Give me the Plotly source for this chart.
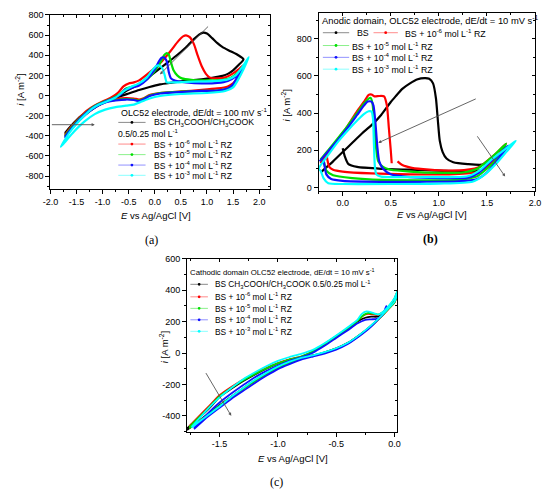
import plotly.graph_objects as go

# the page body keeps its default 8px margin, so the figure is drawn 8px in from the corner
OFF = 8
W, H = 550 - OFF, 492 - OFF

# ---------- (a) OLC52 electrode, 100 mV/s, full window ----------
A_E_BS = [-1.72, -1.6, -1.45, -1.3, -1.15, -1.0, -0.85, -0.7, -0.55, -0.4, -0.2, 0.0, 0.2, 0.4, 0.6, 0.75, 0.85, 0.93,
          1.0, 1.1, 1.2, 1.3, 1.45, 1.6, 1.7,
          1.6, 1.5, 1.4, 1.3, 1.1, 0.9, 0.6, 0.3, 0.1, -0.1, -0.3, -0.5, -0.7, -0.9, -1.1, -1.3, -1.5, -1.72]
A_I_BS = [-370, -300, -220, -160, -110, -70, -35, 0, 45, 85, 150, 230, 310, 390, 480, 560, 605, 625,
          615, 570, 520, 480, 440, 400, 360,
          300, 250, 215, 195, 175, 160, 145, 125, 110, 85, 55, 20, -15, -55, -105, -175, -260, -370]

A_E_R6 = [-1.72, -1.6, -1.45, -1.3, -1.15, -1.0, -0.85, -0.7, -0.6, -0.5, -0.4, -0.3, -0.1, 0.1, 0.3, 0.45, 0.55, 0.6,
          0.67, 0.75, 0.82, 0.9, 0.98, 1.05, 1.2, 1.35, 1.5, 1.62, 1.7,
          1.62, 1.5, 1.4, 1.2, 0.9, 0.5, 0.1, -0.1, -0.2, -0.3, -0.4, -0.55, -0.75, -0.95, -1.15, -1.35, -1.55, -1.72]
A_I_R6 = [-390, -310, -225, -150, -100, -60, -25, 30, 90, 120, 130, 150, 230, 320, 440, 540, 590, 598,
          580, 510, 400, 290, 215, 180, 170, 180, 220, 265, 300,
          200, 120, 90, 70, 55, 40, 25, 5, -25, -40, -30, -25, -35, -60, -110, -190, -290, -390]

A_E_R5 = [-1.72, -1.55, -1.4, -1.25, -1.1, -0.95, -0.8, -0.65, -0.55, -0.45, -0.35, -0.2, -0.05, 0.1, 0.18, 0.22,
          0.27, 0.31, 0.36, 0.43, 0.52, 0.7, 0.9, 1.1, 1.3, 1.45, 1.6, 1.7,
          1.62, 1.5, 1.4, 1.2, 0.9, 0.5, 0.1, -0.1, -0.2, -0.3, -0.4, -0.55, -0.75, -0.95, -1.15, -1.35, -1.55, -1.72]
A_I_R5 = [-400, -290, -210, -140, -90, -55, -25, 20, 70, 85, 100, 140, 210, 320, 400, 420,
          405, 330, 250, 200, 170, 155, 150, 150, 155, 175, 230, 285,
          190, 100, 70, 50, 45, 38, 25, 0, -30, -50, -40, -35, -45, -65, -115, -195, -300, -400]

A_E_R4 = [-1.72, -1.55, -1.4, -1.25, -1.1, -0.95, -0.8, -0.65, -0.57, -0.5, -0.42, -0.3, -0.15, 0.0, 0.08, 0.13,
          0.18, 0.23, 0.27, 0.31, 0.4, 0.6, 0.9, 1.2, 1.4, 1.55, 1.7,
          1.6, 1.5, 1.4, 1.2, 0.9, 0.5, 0.1, -0.1, -0.2, -0.3, -0.4, -0.55, -0.75, -0.95, -1.15, -1.35, -1.55, -1.72]
A_I_R4 = [-410, -300, -215, -145, -95, -60, -30, 10, 60, 65, 80, 100, 160, 260, 340, 375,
          378, 340, 230, 170, 145, 130, 120, 125, 145, 190, 280,
          200, 110, 70, 50, 45, 35, 20, -5, -35, -55, -45, -40, -50, -70, -120, -200, -305, -410]

A_E_R3 = [-1.8, -1.65, -1.5, -1.35, -1.2, -1.05, -0.9, -0.75, -0.6, -0.5, -0.42, -0.3, -0.15, -0.05, 0.02, 0.07,
          0.12, 0.17, 0.2, 0.23, 0.35, 0.6, 0.9, 1.2, 1.4, 1.55, 1.7, 1.8,
          1.7, 1.6, 1.5, 1.35, 1.0, 0.5, 0.1, -0.1, -0.25, -0.4, -0.55, -0.75, -0.95, -1.15, -1.35, -1.55, -1.7, -1.8]
A_I_R3 = [-510, -380, -280, -200, -130, -85, -55, -20, 40, 75, 95, 120, 180, 250, 290, 300,
          285, 240, 180, 130, 130, 135, 140, 145, 160, 200, 300, 380,
          260, 160, 80, 45, 25, 15, -5, -30, -60, -90, -100, -115, -140, -185, -260, -360, -450, -510]

# ---------- (b) anodic domain, 10 mV/s ----------
B_E_BS = [0.0, 0.02, 0.06, 0.15, 0.4, 0.7, 1.0, 1.3, 1.45, 1.55, 1.62, 1.7,
          1.62, 1.55, 1.45, 1.3, 1.15, 1.08, 1.04, 1.01, 0.99, 0.97, 0.94, 0.9, 0.85, 0.78, 0.7, 0.62, 0.55, 0.5,
          0.4, 0.3, 0.2, 0.1, 0.0, -0.1, -0.22]
B_I_BS = [210, 170, 125, 110, 100, 95, 90, 85, 95, 130, 160, 210,
          175, 145, 122, 125, 135, 155, 190, 250, 360, 480, 560, 585, 588, 582, 560, 530, 490, 460,
          390, 335, 290, 240, 190, 140, 85]

B_E_R6 = [-0.17, -0.16, -0.14, -0.1, 0.0, 0.3, 0.7, 1.1, 1.38, 1.5, 1.6, 1.7,
          1.6, 1.52, 1.42, 1.3, 1.1, 0.9, 0.72, 0.62, 0.57, None,
          0.51, 0.5, 0.48, 0.46, 0.43, 0.38, 0.33, 0.3, 0.27, 0.22, 0.15, 0.05, -0.05, -0.15, -0.23]
B_I_R6 = [185, 150, 110, 95, 85, 75, 70, 70, 80, 110, 160, 235,
          185, 150, 110, 95, 90, 95, 105, 120, 140, None,
          130, 200, 320, 440, 490, 492, 490, 500, 498, 460, 410, 330, 260, 185, 130]

B_E_R5 = [-0.2, -0.17, -0.1, 0.1, 0.4, 0.8, 1.2, 1.4, 1.5, 1.6, 1.7,
          1.6, 1.5, 1.4, 1.25, 1.0, 0.7, 0.5, 0.42, 0.37, 0.35, 0.33, 0.31, 0.29, 0.27, 0.22, 0.15, 0.05, -0.05,
          -0.15, -0.23]
B_I_R5 = [150, 90, 65, 50, 40, 38, 40, 60, 100, 150, 235,
          185, 140, 100, 80, 78, 85, 95, 110, 140, 200, 330, 450, 482, 478, 450, 400, 330, 265,
          200, 150]

B_E_R4 = [-0.2, -0.19, -0.17, -0.12, 0.0, 0.4, 0.8, 1.2, 1.4, 1.5, 1.6, 1.72,
          1.62, 1.52, 1.42, 1.3, 1.0, 0.7, 0.5, 0.42, 0.38, 0.36, 0.34, 0.32, 0.3, 0.26, 0.22, 0.15, 0.05, -0.05,
          -0.15, -0.24]
B_I_R4 = [150, 120, 70, 45, 35, 30, 30, 32, 45, 80, 140, 225,
          175, 130, 80, 52, 50, 55, 70, 100, 140, 220, 350, 440, 462, 462, 440, 390, 320, 255,
          195, 140]

B_E_R3 = [-0.25, -0.23, -0.2, -0.15, 0.0, 0.5, 1.0, 1.35, 1.48, 1.6, 1.7, 1.8,
          1.7, 1.55, 1.42, 1.3, 1.0, 0.7, 0.4, 0.35, 0.335, 0.325, 0.315, 0.3, 0.27, 0.22, 0.15, 0.05, -0.05,
          -0.15, -0.25]
B_I_R3 = [100, 90, 50, 22, 18, 18, 20, 30, 70, 130, 190, 250,
          210, 150, 90, 60, 55, 55, 58, 70, 110, 230, 370, 408, 410, 395, 360, 305, 245,
          175, 100]

# ---------- (c) cathodic domain, 10 mV/s ----------
C_E_BS = [-1.78, -1.6, -1.5, -1.4, -1.3, -1.2, -1.1, -1.0, -0.9, -0.8, -0.7, -0.6, -0.5, -0.4, -0.32, -0.25, -0.2,
          -0.15, -0.1, -0.05, 0.0, 0.03,
          0.03, 0.0, -0.05, -0.1, -0.2, -0.3, -0.4, -0.5, -0.6, -0.7, -0.8, -0.9, -1.0, -1.1, -1.2, -1.3, -1.4, -1.5,
          -1.6, -1.78]
C_I_BS = [-480, -360, -280, -228, -180, -138, -100, -68, -42, -25, 8, 55, 105, 155, 200, 225, 232,
          232, 250, 290, 340, 400,
          390, 325, 285, 245, 175, 115, 65, 30, 5, -15, -30, -58, -90, -130, -175, -225, -278, -333,
          -388, -490]

C_E_R6 = [-1.76, -1.6, -1.5, -1.4, -1.3, -1.2, -1.1, -1.0, -0.9, -0.8, -0.7, -0.6, -0.5, -0.4, -0.32, -0.27, -0.23,
          -0.18, -0.14, -0.1, -0.05, 0.0, 0.03,
          0.03, 0.0, -0.05, -0.1, -0.2, -0.3, -0.4, -0.5, -0.6, -0.7, -0.8, -0.9, -1.0, -1.1, -1.2, -1.3, -1.4, -1.5,
          -1.6, -1.76]
C_I_R6 = [-465, -345, -268, -216, -170, -130, -95, -64, -40, -22, 10, 58, 108, 160, 205, 238, 250,
          247, 242, 258, 295, 345, 400,
          390, 322, 282, 243, 172, 112, 62, 27, 2, -18, -34, -62, -94, -134, -180, -230, -282, -337,
          -392, -478]

C_E_R5 = C_E_R6[:]
C_I_R5 = [-470, -352, -274, -222, -175, -134, -98, -66, -41, -22, 9, 57, 107, 158, 204, 240, 255,
          252, 245, 260, 297, 347, 401,
          391, 323, 283, 244, 173, 113, 63, 28, 3, -17, -33, -61, -93, -133, -179, -229, -280, -336,
          -392, -480]

C_E_R4 = [-1.72, -1.6, -1.5, -1.4, -1.3, -1.2, -1.1, -1.0, -0.9, -0.8, -0.7, -0.6, -0.5, -0.4, -0.32, -0.25, -0.2,
          -0.15, -0.1, -0.07,
          -0.07, -0.1, -0.2, -0.3, -0.4, -0.5, -0.6, -0.7, -0.8, -0.9, -1.0, -1.1, -1.2, -1.3, -1.4, -1.5, -1.6,
          -1.72]
C_I_R4 = [-478, -385, -315, -258, -205, -155, -115, -80, -50, -28, 2, 46, 96, 146, 188, 212, 215,
          218, 245, 300,
          292, 250, 168, 108, 58, 22, -3, -22, -42, -70, -102, -145, -192, -242, -292, -348, -405,
          -485]

C_E_R3 = [-1.74, -1.6, -1.5, -1.4, -1.3, -1.2, -1.1, -1.0, -0.9, -0.8, -0.7, -0.6, -0.5, -0.4, -0.32, -0.28, -0.24,
          -0.18, -0.14, -0.1, -0.05, 0.0, 0.03,
          0.03, 0.0, -0.05, -0.1, -0.2, -0.3, -0.4, -0.5, -0.6, -0.7, -0.8, -0.9, -1.0, -1.1, -1.2, -1.3, -1.4, -1.5,
          -1.6, -1.74]
C_I_R3 = [-470, -355, -282, -222, -168, -124, -84, -50, -25, -5, 20, 62, 112, 165, 210, 250, 265,
          255, 245, 262, 300, 350, 402,
          392, 326, 286, 246, 176, 116, 66, 31, 6, -14, -30, -55, -86, -126, -172, -224, -278, -340,
          -395, -475]

# tick labels (Origin style, plain hyphen)
A_XT = [-2.0, -1.5, -1.0, -0.5, 0.0, 0.5, 1.0, 1.5, 2.0]
A_YT = [-800, -600, -400, -200, 0, 200, 400, 600, 800]
B_XT = [0.0, 0.5, 1.0, 1.5, 2.0]
B_YT = [0, 200, 400, 600, 800]
C_XT = [-1.5, -1.0, -0.5, 0.0]
C_YT = [-400, -200, 0, 200, 400, 600]

COLORS = ['#000000', '#ff0000', '#00e000', '#1010ff', '#00ffff']
RZ = ['BS + 10<sup>-6</sup> mol L<sup>-1</sup> RZ', 'BS + 10<sup>-5</sup> mol L<sup>-1</sup> RZ',
      'BS + 10<sup>-4</sup> mol L<sup>-1</sup> RZ', 'BS + 10<sup>-3</sup> mol L<sup>-1</sup> RZ']

FONT = 'Liberation Sans, Arial, sans-serif'


def px(x):
    return (x - OFF) / W


def py(y):
    return 1 - (y - OFF) / H


fig = go.Figure()

panels = [
    ('x', 'y', [(A_E_BS, A_I_BS), (A_E_R6, A_I_R6), (A_E_R5, A_I_R5), (A_E_R4, A_I_R4), (A_E_R3, A_I_R3)], 2.2),
    ('x2', 'y2', [(B_E_BS, B_I_BS), (B_E_R6, B_I_R6), (B_E_R5, B_I_R5), (B_E_R4, B_I_R4), (B_E_R3, B_I_R3)], 2.2),
    ('x3', 'y3', [(C_E_BS, C_I_BS), (C_E_R6, C_I_R6), (C_E_R5, C_I_R5), (C_E_R4, C_I_R4), (C_E_R3, C_I_R3)], 1.8),
]
for xa, ya, series, lw in panels:
    for (e, i), col in zip(series, COLORS):
        fig.add_trace(go.Scatter(x=e, y=i, mode='lines', xaxis=xa, yaxis=ya,
                                 line=dict(color=col, width=lw, shape='spline', smoothing=0.6),
                                 showlegend=False, hoverinfo='skip'))

# dummy traces so the mirrored (top/right) axes get drawn
for xa, ya in [('x4', 'y4'), ('x5', 'y5'), ('x6', 'y6')]:
    fig.add_trace(go.Scatter(x=[None], y=[None], xaxis=xa, yaxis=ya, showlegend=False, hoverinfo='skip'))


def label(v, dec):
    return ('%.1f' % v if dec else '%d' % v)


def axis(dom, rng, vals, dec, step, **kw):
    d = dict(domain=dom, range=rng, tickmode='array', tickvals=vals, ticktext=[label(v, dec) for v in vals],
             ticks='outside', ticklen=4, tickwidth=1,
             tickcolor='black', showline=True, linecolor='black', linewidth=1, showgrid=False,
             zeroline=False, tickfont=dict(family=FONT, size=9, color='black'),
             minor=dict(ticks='outside', ticklen=2, tick0=0, dtick=step / 2, tickcolor='black', showgrid=False))
    d.update(kw)
    return d


def mirror(rng, step, **kw):
    d = dict(range=rng, dtick=step, tick0=0, ticks='inside', ticklen=3, tickwidth=1, tickcolor='black',
             showline=True, linecolor='black', linewidth=1, showgrid=False, zeroline=False,
             showticklabels=False,
             minor=dict(ticks='inside', ticklen=2, dtick=step / 2, tickcolor='black', showgrid=False))
    d.update(kw)
    return d


frames = [
    ('', '4', dict(xd=[px(43.3), px(268.3)], yd=[py(186.7), py(10)], xr=[-2.0, 2.2], yr=[-930, 800],
                   xt=A_XT, yt=A_YT)),
    # the top of (b) sits above the page margin, so the frame starts at the margin with the range cut to match
    ('2', '5', dict(xd=[px(318.7), px(540.7)], yd=[py(188.3), py(8)], xr=[-0.25, 2.0], yr=[-18, 939],
                    xt=B_XT, yt=B_YT)),
    ('3', '6', dict(xd=[px(183.5), px(399.5)], yd=[py(432.7), py(257.5)], xr=[-1.78, 0.025], yr=[-500, 600],
                    xt=C_XT, yt=C_YT)),
]

lay = {}
for n, mx, f in frames:
    lay['xaxis' + n] = axis(f['xd'], f['xr'], f['xt'], True, 0.5, anchor='y' + n)
    lay['yaxis' + n] = axis(f['yd'], f['yr'], f['yt'], False, 200, anchor='x' + n)
    lay['xaxis' + mx] = mirror(f['xr'], 0.5, overlaying='x' + n, side='top', anchor='y' + n)
    lay['yaxis' + mx] = mirror(f['yr'], 200, overlaying='y' + n, side='right', anchor='x' + n)

annotations = []
shapes = []


def text(x, y, s, size=8, **kw):
    d = dict(x=px(x), y=py(y), xref='paper', yref='paper', text=s, showarrow=False,
             font=dict(family=FONT, size=size, color='black'), xanchor='left', yanchor='middle')
    d.update(kw)
    annotations.append(d)


def sample(x0, x1, y, col):
    shapes.append(dict(type='line', xref='paper', yref='paper', x0=px(x0), x1=px(x1), y0=py(y), y1=py(y),
                       line=dict(color=col, width=1), opacity=0.45))
    shapes.append(dict(type='circle', xref='paper', yref='paper', xsizemode='pixel', ysizemode='pixel',
                       xanchor=px((x0 + x1) / 2), yanchor=py(y), x0=-1.4, x1=1.4, y0=-1.4, y1=1.4,
                       fillcolor=col, line=dict(width=0)))


# legend (a)
text(114, 108, 'OLC52 electrode, dE/dt = 100 mV s<sup>-1</sup>', 8.9)
sample(113, 141, 119, COLORS[0])
text(148, 119, 'BS CH<sub>3</sub>COOH/CH<sub>3</sub>COOK', 8.7)
text(111, 130, '0.5/0.25 mol L<sup>-1</sup>', 8.6)
for k, yy in enumerate([141, 151.7, 162.3, 172.7]):
    sample(113, 141, yy, COLORS[k + 1])
    text(148, yy, RZ[k], 8.5)

# legend (b)
text(320.5, 15, 'Anodic domain, OLC52 electrode, dE/dt = 10 mV s<sup>-1</sup>', 9.4)
sample(323, 350, 28, COLORS[0])
text(356, 28, 'BS', 8.8)
sample(375, 400, 28, COLORS[1])
text(405, 28, RZ[0], 8.8)
for k, yy in enumerate([41, 53, 65]):
    sample(323, 350, yy, COLORS[k + 2])
    text(351, yy, RZ[k + 1], 8.8)

# legend (c)
text(184.5, 271, 'Cathodic domain OLC52 electrode, dE/dt = 10 mV s<sup>-1</sup>', 7.8)
sample(187, 205, 283.3, COLORS[0])
text(210, 283.3, 'BS CH<sub>3</sub>COOH/CH<sub>3</sub>COOK 0.5/0.25 mol L<sup>-1</sup>', 8.3)
for k, yy in enumerate([296, 307.7, 319.3, 331]):
    sample(187, 205, yy, COLORS[k + 1])
    text(210, yy, RZ[k], 8.4)

# axis titles
YT = '<i>i</i> [A m<sup>-2</sup>]'
XT = '<i>E</i> vs Ag/AgCl [V]'
for (yx, yy), (xx, xy) in [((12, 86), (152, 213)), ((285, 102), (435, 212)), ((160, 347), (292, 460))]:
    text(yx, yy, YT, 9.5, textangle=-90, xanchor='center')
    text(xx, xy, XT, 9.5, xanchor='center')

# panel labels
for lab, (lx, ly), bold in [('(a)', (147, 238), False), ('(b)', (434, 237.5), True), ('(c)', (275, 484), False)]:
    annotations.append(dict(x=px(lx), y=py(ly), xref='paper', yref='paper', showarrow=False,
                            text='<b>%s</b>' % lab if bold else lab,
                            font=dict(family='Liberation Serif, serif', size=12, color='black'),
                            xanchor='center', yanchor='middle'))

# trend arrows
ARROWS = [
    ('x', 'y', (1.05, 700), (0.1, 210)),
    ('x', 'y', (-2.0, -290), (-1.15, -290)),
    ('x2', 'y2', (1.4, 480), (0.37, 240)),
    ('x2', 'y2', (1.39, 283), (1.69, 58)),
    ('x3', 'y3', (-1.625, -118), (-1.40, -400)),
]
for xa, ya, tail, head in ARROWS:
    annotations.append(dict(x=head[0], y=head[1], ax=tail[0], ay=tail[1], xref=xa, yref=ya, axref=xa, ayref=ya,
                            text='', showarrow=True, arrowhead=2, arrowsize=0.7, arrowwidth=0.9,
                            arrowcolor='#555555'))

fig.update_layout(
    width=W, height=H, margin=dict(l=0, r=0, t=0, b=0),
    paper_bgcolor='white', plot_bgcolor='white', showlegend=False,
    annotations=annotations, shapes=shapes, **lay,
)

fig.write_html("out.html")
